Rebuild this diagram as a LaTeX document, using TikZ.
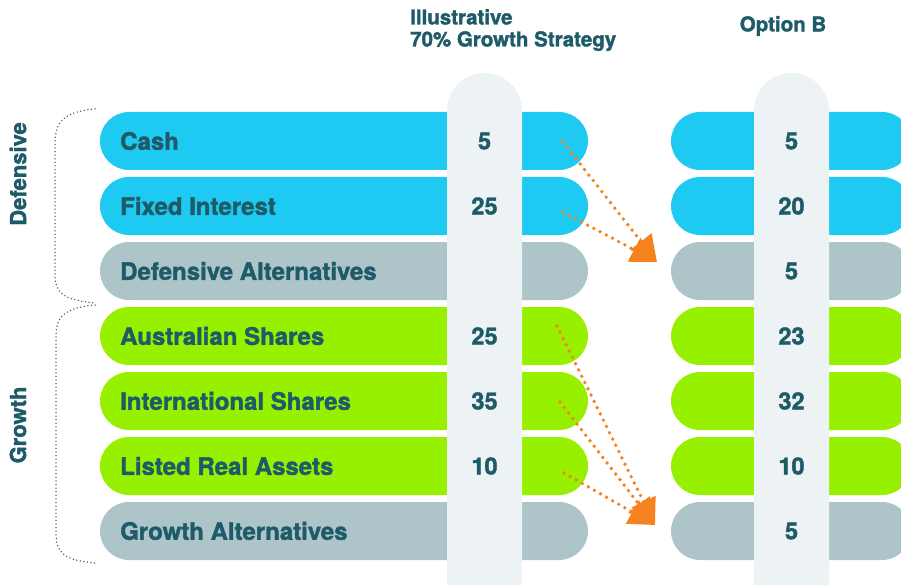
\documentclass[tikz,border=0pt]{standalone}
\usepackage{fontspec}
\setmainfont{TeX Gyre Heros}[BoldFeatures={FakeBold=1.6}]
\usetikzlibrary{arrows.meta}

\definecolor{txtteal}{HTML}{1E5B68}
\definecolor{defblue}{HTML}{1EC9F2}
\definecolor{altgrey}{HTML}{ADC4C9}
\definecolor{growgreen}{HTML}{97F000}
\definecolor{pillgrey}{HTML}{EDF3F4}
\definecolor{shiftorange}{HTML}{F5821F}

\tikzset{
  bar/.style={rectangle, rounded corners=29pt, minimum height=58pt, inner sep=0pt},
  leftbar/.style={bar, minimum width=488pt},
  rightbar/.style={bar, minimum width=240pt},
  pill/.style={rectangle, fill=pillgrey, rounded corners=37.5pt, minimum width=75pt, minimum height=580pt, inner sep=0pt},
  rowlabel/.style={anchor=west, text=txtteal, font=\fontsize{24}{26}\selectfont\bfseries, inner sep=0pt},
  value/.style={text=txtteal, font=\fontsize{23.5}{26}\selectfont\bfseries, inner sep=0pt},
  heading/.style={text=txtteal, font=\fontsize{20.5}{22}\selectfont\bfseries, inner sep=0pt},
  side/.style={text=txtteal, font=\fontsize{22}{24}\selectfont\bfseries, rotate=90, inner sep=0pt},
  brace/.style={txtteal, line width=1.5pt, line cap=round, dash pattern=on 0pt off 3.6pt},
  shiftarrow/.style={shiftorange, line width=3.8pt, line cap=round, dash pattern=on 0pt off 7pt,
    -{Triangle[length=26pt,width=26pt]}}
}

\begin{document}
\begin{tikzpicture}[x=1pt,y=-1pt]
  \useasboundingbox (0,0) rectangle (901,585);
  \clip (0,0) rectangle (901,585);

  % headings
  \node [heading, anchor=north west, align=left] (illus) at (410,9) {Illustrative\\70\% Growth Strategy};
  \node [heading] (optb) at (783,26) {Option B};

  % left column bars
  \node [leftbar, fill=defblue]   (cash)  at (344,141) {};
  \node [leftbar, fill=defblue]   (fixed) at (344,206) {};
  \node [leftbar, fill=altgrey]   (defalt) at (344,271) {};
  \node [leftbar, fill=growgreen] (aus)   at (344,336) {};
  \node [leftbar, fill=growgreen] (intl)  at (344,401) {};
  \node [leftbar, fill=growgreen] (lra)   at (344,466) {};
  \node [leftbar, fill=altgrey]   (growalt) at (344,531) {};

  % right column bars (Option B)
  \node [rightbar, fill=defblue]   (bcash)  at (791,141) {};
  \node [rightbar, fill=defblue]   (bfixed) at (791,206) {};
  \node [rightbar, fill=altgrey]   (bdefalt) at (791,271) {};
  \node [rightbar, fill=growgreen] (baus)   at (791,336) {};
  \node [rightbar, fill=growgreen] (bintl)  at (791,401) {};
  \node [rightbar, fill=growgreen] (blra)   at (791,466) {};
  \node [rightbar, fill=altgrey]   (bgrowalt) at (791,531) {};

  % value columns
  \node [pill] (illuscol) at (484.5,363) {};
  \node [pill] (optbcol)  at (791.5,363) {};

  % row labels
  \node [rowlabel] (lcash)   at (120,141) {Cash};
  \node [rowlabel] (lfixed)  at (120,206) {Fixed Interest};
  \node [rowlabel] (ldefalt) at (120,271) {Defensive Alternatives};
  \node [rowlabel] (laus)    at (120,336) {Australian Shares};
  \node [rowlabel] (lintl)   at (120,401) {International Shares};
  \node [rowlabel] (llra)    at (120,466) {Listed Real Assets};
  \node [rowlabel] (lgrowalt) at (120,531) {Growth Alternatives};

  % illustrative values
  \node [value] (vcash)  at (484.5,141) {5};
  \node [value] (vfixed) at (484.5,206) {25};
  \node [value] (vaus)   at (484.5,336) {25};
  \node [value] (vintl)  at (484.5,401) {35};
  \node [value] (vlra)   at (484.5,466) {10};

  % option B values
  \node [value] (bvcash)   at (791.5,141) {5};
  \node [value] (bvfixed)  at (791.5,206) {20};
  \node [value] (bvdefalt) at (791.5,271) {5};
  \node [value] (bvaus)    at (791.5,336) {23};
  \node [value] (bvintl)   at (791.5,401) {32};
  \node [value] (bvlra)    at (791.5,466) {10};
  \node [value] (bvgrowalt) at (791.5,531) {5};

  % side labels and braces
  \node [side] (defside) at (18,174) {Defensive};
  \node [side] (growside) at (18,425) {Growth};
  \draw [brace] (95,109) .. controls (60,112) and (55,125) .. (55,145) -- (55,275)
    .. controls (55,292) and (62,300) .. (95,303);
  \draw [brace] (95,305) .. controls (62,308) and (56,318) .. (56,338) -- (56,532)
    .. controls (56,552) and (62,560) .. (95,563);

  % shifts between columns
  \coordinate (cashout) at (563,142);
  \coordinate (fixedout) at (563,212);
  \coordinate (defin) at (657,262);
  \coordinate (ausout) at (557,326);
  \coordinate (intlout) at (560,402);
  \coordinate (lraout) at (564,473);
  \coordinate (growin) at (655,525);
  \draw [shiftarrow] (cashout) -- (defin);
  \draw [shiftarrow] (fixedout) -- (defin);
  \draw [shiftarrow] (ausout) -- (growin);
  \draw [shiftarrow] (intlout) -- (growin);
  \draw [shiftarrow] (lraout) -- (growin);
\end{tikzpicture}
\end{document}
